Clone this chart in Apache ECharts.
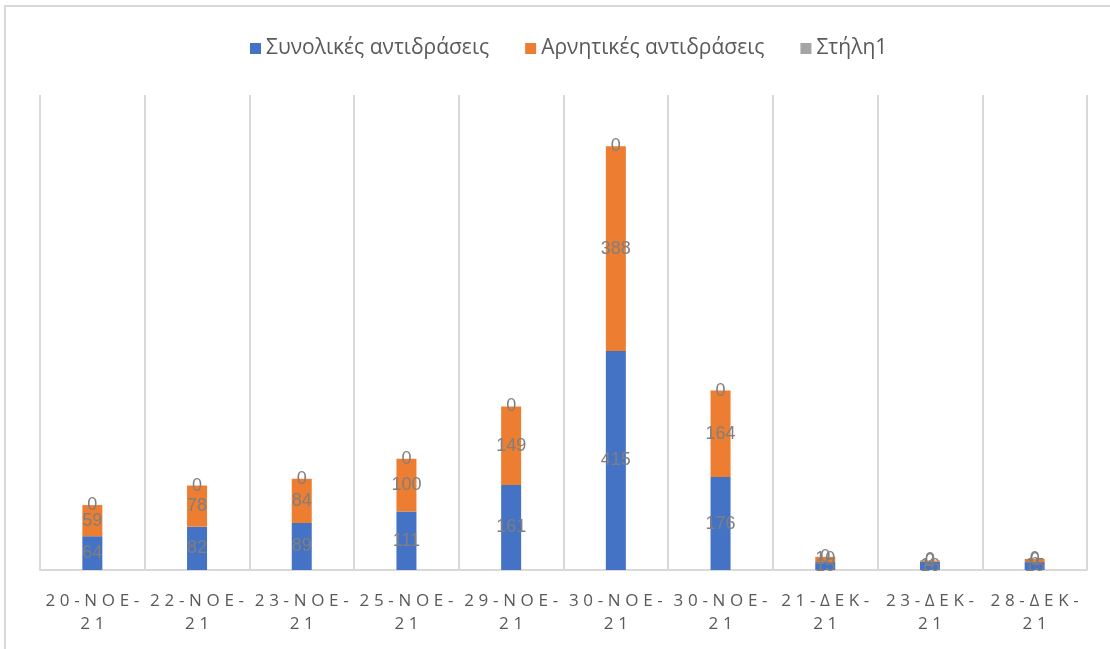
<!DOCTYPE html>
<html>
<head>
<meta charset="utf-8">
<script src="https://cdn.jsdelivr.net/npm/echarts@6/dist/echarts.min.js"></script>
<style>
  html, body { margin: 0; padding: 0; background: #fff; }
  #chart { width: 1110px; height: 649px; }
</style>
</head>
<body>
<div id="chart"></div>
<script>
// Dates of the reactions (Greek month abbreviations)
const categories = ['20-ΝΟΕ-21', '22-ΝΟΕ-21', '23-ΝΟΕ-21', '25-ΝΟΕ-21', '29-ΝΟΕ-21',
                    '30-ΝΟΕ-21', '30-ΝΟΕ-21', '21-ΔΕΚ-21', '23-ΔΕΚ-21', '28-ΔΕΚ-21'];
// Total reactions per date
const totalReactions = [64, 82, 89, 111, 161, 415, 176, 15, 16, 15];
// Negative reactions per date
const negativeReactions = [59, 78, 84, 100, 149, 388, 164, 10, 2, 6];
// Empty helper column
const column1 = [0, 0, 0, 0, 0, 0, 0, 0, 0, 0];

const seriesNames = ['Συνολικές αντιδράσεις', 'Αρνητικές αντιδράσεις', 'Στήλη1'];
const seriesColors = ['#4472c4', '#ed7d31', '#a5a5a5'];

const labelStyle = {
  show: true,
  position: 'inside',
  color: '#7f7f7f',
  fontSize: 18,
  fontFamily: 'Liberation Sans'
};

// Spread characters apart (spaces via rich text) and break after the month part
const GAP = '{s| }';
function spread(str) {
  return str.split('').map(c => '{t|' + c + '}').join(GAP);
}
function formatDate(v) {
  const parts = v.split('-');
  return spread(parts[0] + '-' + parts[1] + '-') + '\n' + spread(parts[2]);
}

const chart = echarts.init(document.getElementById('chart'), null, { renderer: 'canvas' });

const dataSets = [totalReactions, negativeReactions, column1];

chart.setOption({
  animation: false,
  backgroundColor: '#ffffff',
  textStyle: { fontFamily: 'Open Sans' },
  graphic: [
    { type: 'line', shape: { x1: 4, y1: 6, x2: 1110, y2: 6 }, style: { stroke: '#d9d9d9', lineWidth: 2 } },
    { type: 'line', shape: { x1: 5, y1: 6, x2: 5, y2: 649 }, style: { stroke: '#d9d9d9', lineWidth: 2 } }
  ],
  legend: {
    top: 33,
    left: 245,
    itemWidth: 11,
    itemHeight: 11,
    itemGap: 36,
    icon: 'rect',
    textStyle: { color: '#595959', fontSize: 21, fontFamily: 'Open Sans' },
    data: seriesNames
  },
  grid: { left: 40, right: 23, top: 95, bottom: 79 },
  xAxis: {
    type: 'category',
    data: categories,
    axisLine: { show: true, lineStyle: { color: '#d9d9d9', width: 2 } },
    axisTick: { show: false },
    splitLine: { show: true, lineStyle: { color: '#d9d9d9', width: 2 } },
    axisLabel: {
      interval: 0,
      color: '#595959',
      fontSize: 17,
      lineHeight: 23,
      margin: 20,
      fontFamily: 'Open Sans',
      formatter: formatDate,
      rich: {
        t: { fontSize: 17, lineHeight: 23, color: '#595959', fontFamily: 'Open Sans' },
        s: { fontSize: 18, lineHeight: 23, fontFamily: 'Open Sans' }
      }
    }
  },
  yAxis: {
    type: 'value',
    min: 0,
    max: 900,
    show: false,
    splitLine: { show: false }
  },
  series: seriesNames.map((name, i) => ({
    name: name,
    type: 'bar',
    stack: 'total',
    barWidth: 20,
    data: dataSets[i],
    itemStyle: { color: seriesColors[i] },
    label: labelStyle
  }))
});
</script>
</body>
</html>
